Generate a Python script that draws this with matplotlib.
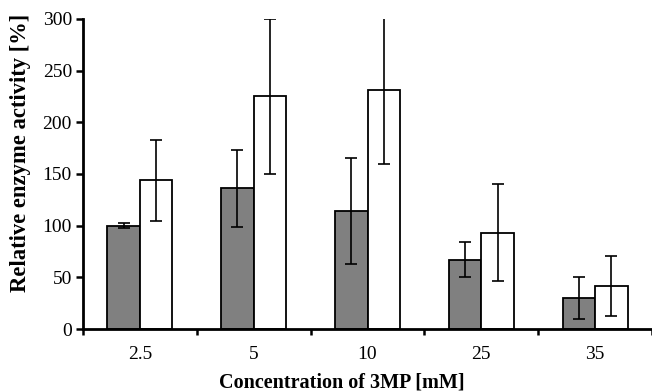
import numpy as np
import matplotlib.pyplot as plt

plt.rcParams['font.family'] = ['Liberation Serif', 'DejaVu Serif']

# Data
concentrations = ['2.5', '5', '10', '25', '35']
gray_vals = [100, 136, 114, 67, 30]
gray_err = [2.5, 37, 51, 17, 20]
white_vals = [144, 225, 231, 93, 42]
white_err = [39, 75, 71, 47, 29]

fig = plt.figure(figsize=(6.52, 3.91), dpi=100)
ax = fig.add_axes([83 / 652, 1 - 329 / 391, 569 / 652, 310 / 391])

x = np.arange(len(concentrations))
w = 0.285
err_kw = dict(ecolor='black', elinewidth=1.2, capsize=4.6, capthick=1.2)
ax.bar(x - w / 2, gray_vals, w, yerr=gray_err, color='#808080',
       edgecolor='black', linewidth=1.3, error_kw=err_kw, zorder=2)
ax.bar(x + w / 2, white_vals, w, yerr=white_err, color='white',
       edgecolor='black', linewidth=1.3, error_kw=err_kw, zorder=2)

ax.set_xlim(-0.5, len(concentrations) - 0.5)
ax.set_ylim(0, 300)
ax.set_yticks(np.arange(0, 301, 50))
ax.set_xticks(x)
ax.set_xticklabels(concentrations)
ax.set_xticks(np.arange(-0.5, len(concentrations), 1), minor=True)
ax.tick_params(axis='x', which='major', length=0, pad=12, labelsize=14)
ax.tick_params(axis='x', which='minor', length=4, width=1.8, direction='out')
ax.tick_params(axis='y', length=5, width=1.8, labelsize=14, pad=3)

for s in ['top', 'right']:
    ax.spines[s].set_visible(False)
for s in ['left', 'bottom']:
    ax.spines[s].set_linewidth(2)

fig.text(21 / 652, 1 - 153 / 391, 'Relative enzyme activity [%]', fontsize=16.3,
         fontweight='bold', rotation=90, ha='center', va='center')
fig.text(342 / 652, 1 - 382 / 391, 'Concentration of 3MP [mM]', fontsize=14.5,
         fontweight='bold', ha='center', va='center')

fig.savefig('out.png', dpi=100)
